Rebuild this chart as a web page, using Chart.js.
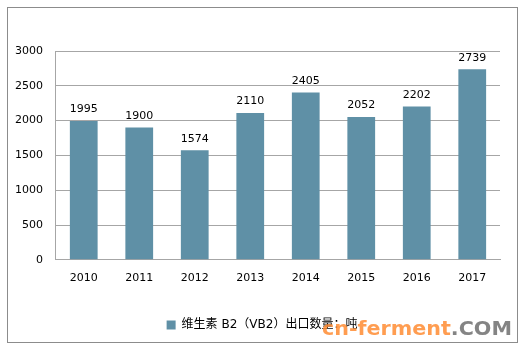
<!DOCTYPE html>
<html>
<head>
<meta charset="utf-8">
<script src="https://cdn.jsdelivr.net/npm/chart.js@4/dist/chart.umd.min.js"></script>
<style>
  html, body { margin: 0; padding: 0; background: #fff; }
  #wrap { width: 527px; height: 350px; position: relative; }
</style>
</head>
<body>
<div id="wrap"><canvas id="vb2Chart" width="527" height="350"></canvas></div>
<script>
// 数据
const years = ['2010', '2011', '2012', '2013', '2014', '2015', '2016', '2017'];
const exportTons = [1995, 1900, 1574, 2110, 2405, 2052, 2202, 2739];
const seriesName = '维生素 B2（VB2）出口数量：吨';
const yTicks = [0, 500, 1000, 1500, 2000, 2500, 3000];

const barColor = '#5f90a6';
const gridColor = '#a6a6a6';
const fontFamily = '"DejaVu Sans", "Noto Sans CJK SC", sans-serif';

// 外框
const framePlugin = {
    id: 'frame',
    beforeDraw(chart) {
        const ctx = chart.ctx;
        ctx.save();
        ctx.strokeStyle = '#8c8c8c';
        ctx.lineWidth = 1;
        ctx.strokeRect(7.5, 7.5, 510, 335);
        ctx.restore();
    }
};

// 图例稍向右移
const legendShift = {
    id: 'legendShift',
    afterLayout(chart) {
        if (chart.legend) {
            chart.legend.left += 11;
            chart.legend.right += 11;
        }
    }
};

// 柱顶数值
const valueLabels = {
    id: 'valueLabels',
    afterDatasetsDraw(chart) {
        const ctx = chart.ctx;
        const meta = chart.getDatasetMeta(0);
        ctx.save();
        ctx.font = '11px ' + fontFamily;
        ctx.fillStyle = '#000';
        ctx.textAlign = 'center';
        ctx.textBaseline = 'bottom';
        meta.data.forEach((bar, i) => {
            ctx.fillText(String(exportTons[i]), bar.x, bar.y - 6);
        });
        ctx.restore();
    }
};

// 水印
const watermark = {
    id: 'watermark',
    afterDraw(chart) {
        const ctx = chart.ctx;
        ctx.save();
        ctx.font = 'bold 20px ' + fontFamily;
        const w1 = ctx.measureText('cn-ferment').width;
        const w2 = ctx.measureText('.COM').width;
        const sx = 190 / (w1 + w2);
        ctx.translate(322, 335);
        ctx.scale(sx, 1);
        ctx.textBaseline = 'alphabetic';
        ctx.textAlign = 'left';
        ctx.fillStyle = 'rgba(255, 140, 50, 0.85)';
        ctx.fillText('cn-ferment', 0, 0);
        ctx.fillStyle = 'rgba(110, 110, 110, 0.85)';
        ctx.fillText('.COM', w1, 0);
        ctx.restore();
    }
};

new Chart(document.getElementById('vb2Chart'), {
    type: 'bar',
    data: {
        labels: years,
        datasets: [{
            label: seriesName,
            data: exportTons,
            backgroundColor: barColor,
            borderWidth: 0,
            categoryPercentage: 1,
            barPercentage: 0.5
        }]
    },
    options: {
        responsive: false,
        animation: false,
        devicePixelRatio: 1,
        layout: {
            padding: { top: 51, left: 2, right: 27, bottom: 9 }
        },
        plugins: {
            legend: {
                position: 'bottom',
                labels: {
                    boxWidth: 9,
                    boxHeight: 9,
                    padding: 10,
                    color: '#000',
                    font: { family: fontFamily, size: 12 }
                }
            },
            tooltip: { enabled: false }
        },
        scales: {
            x: {
                grid: { display: false, drawTicks: false },
                border: { display: true, color: gridColor },
                ticks: {
                    padding: 12,
                    color: '#000',
                    font: { family: fontFamily, size: 11 }
                },
                afterFit(scale) {
                    scale.height += 12;
                }
            },
            y: {
                min: 0,
                max: 3000,
                afterBuildTicks(scale) {
                    scale.ticks = yTicks.map(v => ({ value: v }));
                },
                grid: { color: gridColor, drawTicks: false },
                border: { display: true, color: gridColor },
                ticks: {
                    padding: 13,
                    color: '#000',
                    font: { family: fontFamily, size: 11 },
                    callback: v => String(v)
                }
            }
        }
    },
    plugins: [framePlugin, legendShift, valueLabels, watermark]
});
</script>
</body>
</html>
